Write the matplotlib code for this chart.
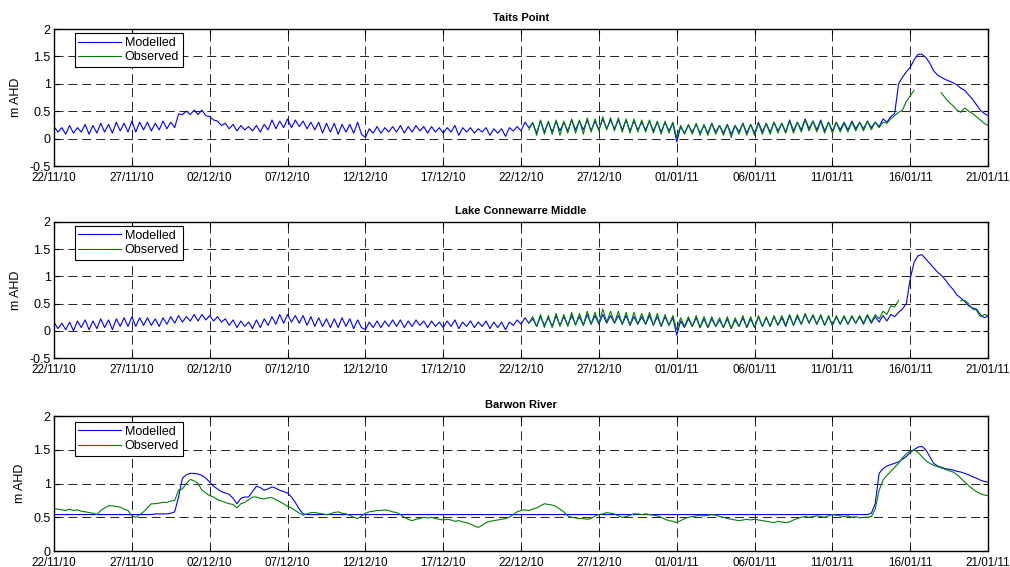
import numpy as np
import matplotlib
matplotlib.use("Agg")
import matplotlib.pyplot as plt
import matplotlib.dates as mdates

nan = np.nan

# 6-hourly samples (one line per day) starting 22/11/10 00:00
taits_model = [
    0.22, 0.12, 0.20, 0.08,
    0.24, 0.10, 0.20, 0.12,
    0.26, 0.08, 0.24, 0.10,
    0.28, 0.12, 0.26, 0.10,
    0.30, 0.14, 0.28, 0.12,
    0.32, 0.12, 0.30, 0.16,
    0.30, 0.14, 0.28, 0.16,
    0.32, 0.18, 0.30, 0.20,
    0.45, 0.44, 0.50, 0.44,
    0.52, 0.44, 0.52, 0.42,
    0.40, 0.34, 0.32, 0.24,
    0.28, 0.18, 0.26, 0.14,
    0.24, 0.16, 0.22, 0.14,
    0.24, 0.12, 0.26, 0.16,
    0.34, 0.18, 0.32, 0.20,
    0.36, 0.20, 0.34, 0.22,
    0.32, 0.18, 0.30, 0.16,
    0.30, 0.10, 0.28, 0.12,
    0.28, 0.08, 0.26, 0.12,
    0.26, 0.10, 0.30, 0.08,
    0.02, 0.18, 0.10, 0.22,
    0.10, 0.20, 0.12, 0.22,
    0.12, 0.24, 0.10, 0.22,
    0.12, 0.24, 0.14, 0.22,
    0.10, 0.22, 0.12, 0.20,
    0.10, 0.20, 0.12, 0.24,
    0.06, 0.20, 0.12, 0.20,
    0.10, 0.18, 0.12, 0.20,
    0.06, 0.18, 0.10, 0.18,
    0.04, 0.20, 0.14, 0.22,
    0.14, 0.30, 0.20, 0.28,
    0.10, 0.32, 0.12, 0.30,
    0.12, 0.32, 0.14, 0.30,
    0.14, 0.34, 0.16, 0.32,
    0.16, 0.34, 0.14, 0.32,
    0.16, 0.36, 0.18, 0.34,
    0.18, 0.34, 0.16, 0.34,
    0.14, 0.32, 0.16, 0.30,
    0.16, 0.32, 0.14, 0.30,
    0.12, 0.30, 0.14, 0.28,
    -0.06, 0.22, 0.10, 0.24,
    0.12, 0.26, 0.10, 0.24,
    0.10, 0.28, 0.12, 0.24,
    0.10, 0.26, 0.08, 0.24,
    0.12, 0.28, 0.10, 0.26,
    0.10, 0.30, 0.12, 0.28,
    0.12, 0.30, 0.14, 0.28,
    0.12, 0.34, 0.14, 0.30,
    0.16, 0.36, 0.18, 0.32,
    0.16, 0.34, 0.14, 0.30,
    0.14, 0.30, 0.16, 0.30,
    0.16, 0.32, 0.18, 0.30,
    0.18, 0.32, 0.20, 0.30,
    0.22, 0.36, 0.30, 0.40,
    0.46, 1.00, 1.12, 1.22,
    1.30, 1.44, 1.54, 1.54,
    1.48, 1.38, 1.24, 1.16,
    1.12, 1.08, 1.05, 1.02,
    0.98, 0.92, 0.88, 0.80,
    0.72, 0.62, 0.52, 0.46,
    0.42,
]

# observed series start 22/12/10 00:00
taits_obs = [
    nan, nan, 0.16, 0.30,
    0.06, 0.34, 0.08, 0.32,
    0.08, 0.34, 0.06, 0.32,
    0.10, 0.36, 0.10, 0.34,
    0.08, 0.38, 0.12, 0.36,
    0.14, 0.40, 0.16, 0.38,
    0.14, 0.38, 0.12, 0.36,
    0.10, 0.36, 0.12, 0.34,
    0.12, 0.34, 0.10, 0.32,
    0.08, 0.32, 0.10, 0.30,
    0.02, 0.24, 0.08, 0.26,
    0.08, 0.28, 0.06, 0.26,
    0.06, 0.28, 0.08, 0.24,
    0.06, 0.26, 0.02, 0.24,
    0.08, 0.28, 0.06, 0.26,
    0.06, 0.28, 0.08, 0.28,
    0.08, 0.30, 0.10, 0.28,
    0.10, 0.32, 0.10, 0.30,
    0.12, 0.34, 0.14, 0.32,
    0.12, 0.32, 0.10, 0.30,
    0.10, 0.30, 0.12, 0.28,
    0.12, 0.30, 0.14, 0.30,
    0.14, 0.32, 0.16, 0.30,
    0.20, 0.30, 0.28, 0.36,
    0.42, 0.48, 0.52, 0.68,
    0.78, 0.88, nan, nan,
    nan, nan, nan, nan,
    0.84, 0.74, 0.66, 0.60,
    0.52, 0.48, 0.56, 0.50,
    0.46, 0.40, 0.34, 0.28,
    0.24,
]

lake_model = [
    0.16, 0.04, 0.14, 0.02,
    0.16, 0.00, 0.18, 0.06,
    0.20, 0.02, 0.18, 0.04,
    0.22, 0.06, 0.20, 0.02,
    0.22, 0.08, 0.24, 0.08,
    0.26, 0.08, 0.24, 0.10,
    0.24, 0.10, 0.22, 0.08,
    0.24, 0.12, 0.26, 0.14,
    0.28, 0.16, 0.26, 0.18,
    0.30, 0.18, 0.30, 0.20,
    0.28, 0.18, 0.26, 0.16,
    0.22, 0.10, 0.20, 0.06,
    0.18, 0.08, 0.16, 0.04,
    0.20, 0.06, 0.22, 0.10,
    0.26, 0.12, 0.30, 0.14,
    0.30, 0.16, 0.28, 0.14,
    0.28, 0.10, 0.26, 0.08,
    0.24, 0.08, 0.22, 0.06,
    0.22, 0.06, 0.24, 0.08,
    0.22, 0.04, 0.20, 0.06,
    0.02, 0.16, 0.06, 0.18,
    0.06, 0.18, 0.08, 0.20,
    0.08, 0.20, 0.06, 0.18,
    0.08, 0.20, 0.10, 0.18,
    0.06, 0.18, 0.08, 0.16,
    0.06, 0.18, 0.08, 0.20,
    0.04, 0.16, 0.08, 0.18,
    0.06, 0.16, 0.08, 0.18,
    0.04, 0.16, 0.06, 0.16,
    0.02, 0.16, 0.10, 0.20,
    0.12, 0.24, 0.14, 0.22,
    0.08, 0.26, 0.10, 0.24,
    0.08, 0.28, 0.10, 0.26,
    0.10, 0.28, 0.12, 0.26,
    0.10, 0.30, 0.12, 0.28,
    0.12, 0.30, 0.14, 0.28,
    0.14, 0.28, 0.12, 0.28,
    0.10, 0.26, 0.12, 0.26,
    0.12, 0.28, 0.10, 0.26,
    0.08, 0.26, 0.10, 0.24,
    -0.08, 0.18, 0.06, 0.22,
    0.08, 0.24, 0.06, 0.22,
    0.06, 0.22, 0.08, 0.20,
    0.06, 0.22, 0.04, 0.20,
    0.08, 0.24, 0.06, 0.22,
    0.06, 0.26, 0.08, 0.24,
    0.08, 0.26, 0.10, 0.24,
    0.08, 0.28, 0.10, 0.26,
    0.12, 0.30, 0.14, 0.28,
    0.12, 0.28, 0.10, 0.26,
    0.10, 0.26, 0.12, 0.26,
    0.12, 0.26, 0.14, 0.26,
    0.12, 0.28, 0.14, 0.26,
    0.16, 0.28, 0.18, 0.30,
    0.26, 0.34, 0.40, 0.50,
    0.96, 1.26, 1.38, 1.40,
    1.32, 1.24, 1.16, 1.08,
    1.02, 0.94, 0.84, 0.76,
    0.66, 0.60, 0.54, 0.46,
    0.42, 0.40, 0.30, 0.24,
    0.27,
]

lake_obs = [
    nan, nan, 0.14, 0.26,
    0.08, 0.30, 0.06, 0.28,
    0.06, 0.32, 0.08, 0.30,
    0.08, 0.34, 0.10, 0.32,
    0.10, 0.36, 0.12, 0.34,
    0.14, 0.40, 0.16, 0.36,
    0.14, 0.36, 0.12, 0.34,
    0.10, 0.34, 0.12, 0.32,
    0.12, 0.34, 0.10, 0.32,
    0.08, 0.30, 0.10, 0.28,
    0.02, 0.24, 0.08, 0.26,
    0.08, 0.28, 0.06, 0.26,
    0.06, 0.26, 0.08, 0.24,
    0.06, 0.26, 0.04, 0.24,
    0.08, 0.28, 0.06, 0.26,
    0.06, 0.28, 0.08, 0.26,
    0.08, 0.28, 0.10, 0.28,
    0.10, 0.30, 0.10, 0.30,
    0.12, 0.32, 0.14, 0.30,
    0.12, 0.30, 0.10, 0.28,
    0.10, 0.28, 0.12, 0.28,
    0.12, 0.28, 0.14, 0.28,
    0.14, 0.30, 0.16, 0.30,
    0.22, 0.36, 0.30, 0.46,
    0.44, 0.56, nan, nan,
    nan, nan, nan, nan,
    nan, nan, nan, nan,
    nan, nan, nan, nan,
    nan, 0.55, 0.56, 0.50,
    0.40, 0.38, 0.26, 0.30,
    0.28,
]

barwon_model = [
    0.54, 0.54, 0.54, 0.54,
    0.54, 0.54, 0.54, 0.54,
    0.54, 0.54, 0.54, 0.54,
    0.54, 0.54, 0.54, 0.54,
    0.54, 0.54, 0.54, 0.54,
    0.54, 0.54, 0.54, 0.54,
    0.54, 0.54, 0.55, 0.55,
    0.55, 0.55, 0.56, 0.58,
    0.80, 1.08, 1.13, 1.15,
    1.15, 1.14, 1.12, 1.08,
    1.02, 0.96, 0.92, 0.88,
    0.86, 0.84, 0.78, 0.70,
    0.78, 0.80, 0.80, 0.88,
    0.96, 0.94, 0.90, 0.92,
    0.95, 0.93, 0.90, 0.88,
    0.86, 0.80, 0.72, 0.62,
    0.55, 0.54, 0.54, 0.54,
    0.54, 0.54, 0.54, 0.54,
    0.54, 0.54, 0.54, 0.54,
    0.54, 0.54, 0.54, 0.54,
    0.54, 0.54, 0.54, 0.54,
    0.54, 0.54, 0.54, 0.54,
    0.54, 0.54, 0.54, 0.54,
    0.54, 0.54, 0.54, 0.54,
    0.54, 0.54, 0.54, 0.54,
    0.54, 0.54, 0.54, 0.54,
    0.54, 0.54, 0.54, 0.54,
    0.54, 0.54, 0.54, 0.54,
    0.54, 0.54, 0.54, 0.54,
    0.54, 0.54, 0.54, 0.54,
    0.54, 0.54, 0.54, 0.54,
    0.54, 0.54, 0.54, 0.54,
    0.54, 0.54, 0.54, 0.54,
    0.54, 0.54, 0.54, 0.54,
    0.54, 0.54, 0.54, 0.54,
    0.54, 0.54, 0.54, 0.54,
    0.54, 0.54, 0.54, 0.54,
    0.54, 0.54, 0.54, 0.54,
    0.54, 0.54, 0.54, 0.54,
    0.54, 0.54, 0.54, 0.54,
    0.54, 0.54, 0.54, 0.54,
    0.54, 0.54, 0.54, 0.54,
    0.54, 0.54, 0.54, 0.54,
    0.54, 0.54, 0.54, 0.54,
    0.54, 0.54, 0.54, 0.54,
    0.54, 0.54, 0.54, 0.54,
    0.54, 0.54, 0.54, 0.54,
    0.54, 0.54, 0.54, 0.54,
    0.54, 0.54, 0.54, 0.54,
    0.54, 0.54, 0.54, 0.54,
    0.54, 0.54, 0.54, 0.54,
    0.54, 0.54, 0.54, 0.54,
    0.54, 0.54, 0.56, 0.70,
    1.15, 1.22, 1.26, 1.28,
    1.30, 1.32, 1.36, 1.40,
    1.46, 1.50, 1.54, 1.55,
    1.50, 1.40, 1.30, 1.26,
    1.24, 1.22, 1.21, 1.20,
    1.18, 1.17, 1.15, 1.13,
    1.10, 1.08, 1.05, 1.03,
    1.02,
]

barwon_obs = [
    0.63, 0.62, 0.61, 0.60,
    0.62, 0.60, 0.61, 0.59,
    0.58, 0.57, 0.56, 0.54,
    0.60, 0.64, 0.67, 0.67,
    0.66, 0.65, 0.62, 0.60,
    0.52, 0.50, 0.54, 0.58,
    0.64, 0.70, 0.70, 0.71,
    0.72, 0.72, 0.74, 0.75,
    0.90, 0.92, 1.00, 1.06,
    1.04, 1.00, 0.90, 0.86,
    0.82, 0.80, 0.76, 0.74,
    0.72, 0.70, 0.69, 0.64,
    0.70, 0.72, 0.76, 0.80,
    0.80, 0.78, 0.77, 0.79,
    0.79, 0.76, 0.73, 0.70,
    0.66, 0.64, 0.60, 0.56,
    0.53, 0.55, 0.57, 0.57,
    0.56, 0.55, 0.54, 0.55,
    0.57, 0.58, 0.56, 0.55,
    0.53, 0.50, 0.48, 0.52,
    0.56, 0.58, 0.59, 0.60,
    0.60, 0.61, 0.60, 0.58,
    0.57, 0.54, 0.50, 0.47,
    0.45, 0.47, 0.48, 0.50,
    0.49, 0.50, 0.48, 0.47,
    0.46, 0.47, 0.46, 0.44,
    0.45, 0.43, 0.42, 0.40,
    0.37, 0.35, 0.38, 0.42,
    0.44, 0.45, 0.46, 0.47,
    0.48, 0.50, 0.54, 0.58,
    0.60, 0.61, 0.60, 0.62,
    0.64, 0.67, 0.70, 0.69,
    0.68, 0.66, 0.62, 0.58,
    0.52, 0.50, 0.49, 0.48,
    0.48, 0.47, 0.48, 0.52,
    0.54, 0.55, 0.57, 0.56,
    0.55, 0.52, 0.50, 0.51,
    0.53, 0.55, 0.55, 0.54,
    0.55, 0.54, 0.53, 0.52,
    0.50, 0.47, 0.45, 0.44,
    0.42, 0.45, 0.48, 0.50,
    0.51, 0.52, 0.53, 0.52,
    0.53, 0.54, 0.53, 0.51,
    0.50, 0.48, 0.47, 0.46,
    0.45, 0.46, 0.47, 0.46,
    0.47, 0.46, 0.45, 0.44,
    0.43, 0.42, 0.44, 0.43,
    0.42, 0.43, 0.46, 0.48,
    0.50, 0.51, 0.50, 0.51,
    0.52, 0.51, 0.50, 0.52,
    0.54, 0.53, 0.52, 0.51,
    0.52, 0.50, 0.51, 0.49,
    0.50, 0.50, 0.51, 0.62,
    0.90, 1.05, 1.12, 1.18,
    1.24, 1.30, 1.38, 1.44,
    1.48, 1.50, 1.46, 1.40,
    1.34, 1.30, 1.27, 1.25,
    1.23, 1.21, 1.19, 1.17,
    1.13, 1.08, 1.02, 0.97,
    0.92, 0.88, 0.85, 0.83,
    0.82,
]

titles = ["Taits Point", "Lake Connewarre Middle", "Barwon River"]
tick_dates = ["2010-11-22", "2010-11-27", "2010-12-02", "2010-12-07", "2010-12-12",
              "2010-12-17", "2010-12-22", "2010-12-27", "2011-01-01", "2011-01-06",
              "2011-01-11", "2011-01-16", "2011-01-21"]

model_start = np.datetime64("2010-11-22T00:00")
obs_start_lake = np.datetime64("2010-12-22T00:00")
step = np.timedelta64(6, "h")


def times(start, n):
    return start + step * np.arange(n)


plt.rcParams["font.family"] = ["Liberation Sans", "DejaVu Sans"]
plt.rcParams["lines.scale_dashes"] = False

fig = plt.figure(figsize=(10.1, 5.67), dpi=100)
axes = [
    fig.add_axes([0.0535, 0.7072, 0.9248, 0.2416]),
    fig.add_axes([0.0535, 0.3686, 0.9248, 0.2399]),
    fig.add_axes([0.0535, 0.0282, 0.9248, 0.2381]),
]

panels = [
    (taits_model, obs_start_lake, taits_obs, (-0.5, 2)),
    (lake_model, obs_start_lake, lake_obs, (-0.5, 2)),
    (barwon_model, model_start, barwon_obs, (0, 2)),
]

for ax, title, (mod, ostart, obs, ylim) in zip(axes, titles, panels):
    ax.plot(times(model_start, len(mod)), mod, color="#0000ff", lw=0.8, label="Modelled")
    ax.plot(times(ostart, len(obs)), obs, color="#008000", lw=0.8, label="Observed")
    ax.set_xlim(np.datetime64("2010-11-22"), np.datetime64("2011-01-21"))
    ax.set_ylim(*ylim)
    yt = np.arange(ylim[0], 2.01, 0.5)
    ax.set_yticks(yt)
    ax.set_yticklabels([f"{v:g}" for v in yt])
    ax.set_xticks([np.datetime64(d) for d in tick_dates])
    ax.xaxis.set_major_formatter(mdates.DateFormatter("%d/%m/%y"))
    ax.grid(True, color="black", linestyle=(0, (6.5, 3.5)), linewidth=0.6)
    ax.tick_params(direction="in", top=True, right=True, length=3.5, width=0.8)
    ax.tick_params(axis="x", pad=4, labelsize=8.4)
    ax.tick_params(axis="y", pad=2.5, labelsize=9)
    for s in ax.spines.values():
        s.set_linewidth(1.0)
    ax.set_ylabel("m AHD", fontsize=9, labelpad=5)
    ax.set_title(title, fontsize=8, fontweight="bold", pad=6)
    off = 0.955 if ylim[0] == 0 else 0.97
    leg = ax.legend(loc="upper left", bbox_to_anchor=(0.022, off), fontsize=9,
                    fancybox=False, framealpha=1, edgecolor="black",
                    handlelength=3.4, handletextpad=0.3, borderpad=0.3,
                    labelspacing=0.2, borderaxespad=0)
    leg.get_frame().set_linewidth(0.8)

fig.savefig("out.png", dpi=100)
